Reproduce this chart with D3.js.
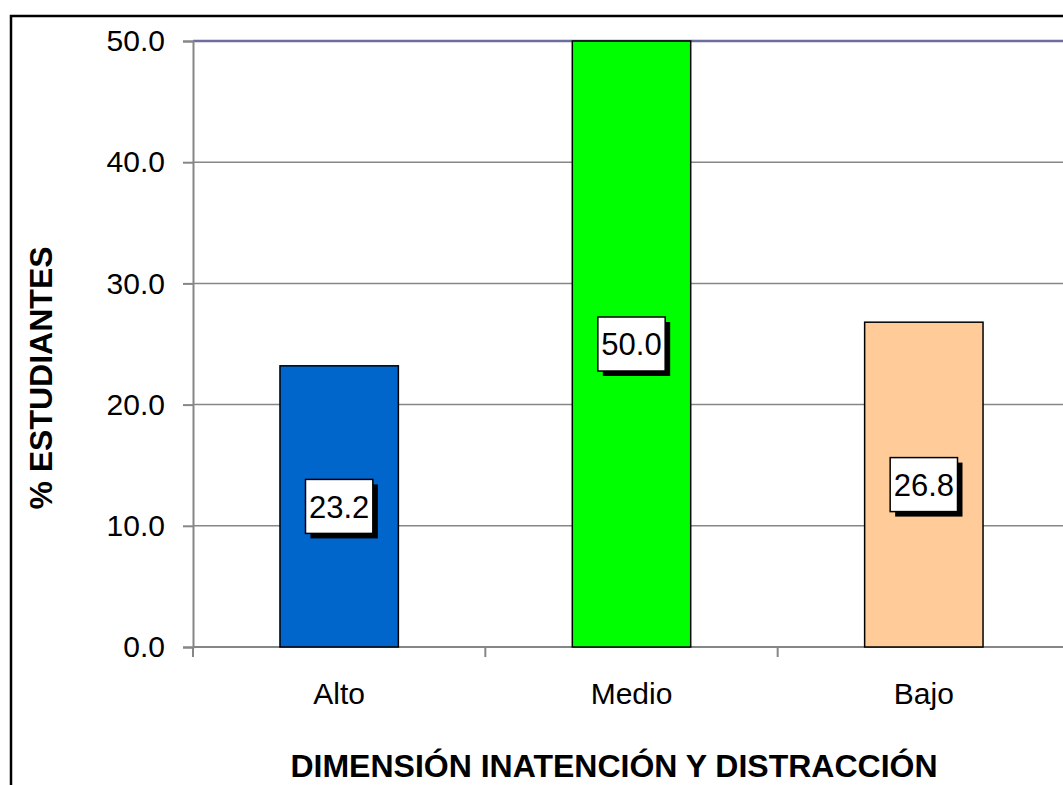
<!DOCTYPE html>
<html>
<head>
<meta charset="utf-8">
<script src="https://cdn.jsdelivr.net/npm/d3@7"></script>
<style>
  body { margin: 0; background: #fff; }
  svg { display: block; }
  text { font-family: Arial, "Liberation Sans", sans-serif; fill: #000; }
</style>
</head>
<body>
<svg id="chart" width="1063" height="785"></svg>
<script>
// chart data
var categories = ["Alto", "Medio", "Bajo"];
var values = [23.2, 50.0, 26.8];
var barColors = ["#0066CC", "#00FF00", "#FFCC99"];
var yTicks = [0, 10, 20, 30, 40, 50];

var svg = d3.select("#chart");

var plot = { left: 193, top: 41, right: 1070, bottom: 647 };

var x = d3.scaleBand()
    .domain(categories)
    .range([plot.left, plot.right])
    .padding(0);

var y = d3.scaleLinear()
    .domain([0, 50])
    .range([plot.bottom, plot.top]);

var barW = x.bandwidth() * 0.405;

// outer chart frame (runs off the right and bottom edges)
svg.append("rect")
    .attr("x", 11).attr("y", 16)
    .attr("width", 1100).attr("height", 800)
    .attr("fill", "none")
    .attr("stroke", "#000")
    .attr("stroke-width", 2.5);

// gridlines
svg.append("g")
    .selectAll("line")
    .data(yTicks.filter(function(t) { return t > 0; }))
    .enter().append("line")
    .attr("x1", plot.left).attr("x2", plot.right)
    .attr("y1", function(d) { return y(d); })
    .attr("y2", function(d) { return y(d); })
    .attr("stroke", function(d) { return d === 50 ? "#6e6e9c" : "#868686"; })
    .attr("stroke-width", function(d) { return d === 50 ? 2.5 : 1.5; });

// y axis
var yAxis = d3.axisLeft(y)
    .tickValues(yTicks)
    .tickFormat(d3.format(".1f"))
    .tickSize(10)
    .tickPadding(18);

var gy = svg.append("g")
    .attr("transform", "translate(" + plot.left + ",0)")
    .call(yAxis);
gy.select(".domain").attr("stroke", "#868686").attr("stroke-width", 2);
gy.selectAll(".tick line").attr("stroke", "#868686").attr("stroke-width", 2);
gy.selectAll(".tick text")
    .style("font-size", "30px")
    .style("font-family", "Arial, 'Liberation Sans', sans-serif")
    .attr("fill", "#000");

// x axis baseline + category separators
svg.append("line")
    .attr("x1", plot.left).attr("x2", plot.right)
    .attr("y1", plot.bottom).attr("y2", plot.bottom)
    .attr("stroke", "#868686").attr("stroke-width", 2);

svg.append("g")
    .selectAll("line")
    .data(categories)
    .enter().append("line")
    .attr("x1", function(d) { return x(d); })
    .attr("x2", function(d) { return x(d); })
    .attr("y1", plot.bottom).attr("y2", plot.bottom + 10)
    .attr("stroke", "#868686").attr("stroke-width", 2);

// bars
svg.append("g")
    .selectAll("rect")
    .data(values)
    .enter().append("rect")
    .attr("x", function(d, i) { return x(categories[i]) + (x.bandwidth() - barW) / 2; })
    .attr("y", function(d) { return y(d); })
    .attr("width", barW)
    .attr("height", function(d) { return y(0) - y(d); })
    .attr("fill", function(d, i) { return barColors[i]; })
    .attr("stroke", "#000")
    .attr("stroke-width", 1.5);

// category labels
svg.append("g")
    .selectAll("text")
    .data(categories)
    .enter().append("text")
    .attr("x", function(d) { return x(d) + x.bandwidth() / 2; })
    .attr("y", 704)
    .attr("text-anchor", "middle")
    .style("font-size", "30px")
    .text(function(d) { return d; });

// data labels: white box with black drop shadow
var fmt = d3.format(".1f");
var labels = svg.append("g")
    .selectAll("g")
    .data(values)
    .enter().append("g")
    .attr("transform", function(d, i) {
        var cx = x(categories[i]) + x.bandwidth() / 2;
        var cy = (y(d) + y(0)) / 2;
        return "translate(" + cx + "," + cy + ")";
    });

labels.each(function(d) {
    var g = d3.select(this);
    var t = g.append("text")
        .attr("text-anchor", "middle")
        .attr("dy", "0.36em")
        .style("font-size", "31px")
        .text(fmt(d));
    var w = t.node().getComputedTextLength() + 7;
    var h = 54;
    g.insert("rect", "text")
        .attr("x", -w / 2 + 5).attr("y", -h / 2 + 5)
        .attr("width", w).attr("height", h)
        .attr("fill", "#000");
    g.insert("rect", "text")
        .attr("x", -w / 2).attr("y", -h / 2)
        .attr("width", w).attr("height", h)
        .attr("fill", "#fff")
        .attr("stroke", "#000")
        .attr("stroke-width", 1.5);
});

// axis titles
svg.append("text")
    .attr("transform", "translate(52,378) rotate(-90)")
    .attr("text-anchor", "middle")
    .style("font-size", "32px")
    .style("font-weight", "bold")
    .text("% ESTUDIANTES");

svg.append("text")
    .attr("x", 614)
    .attr("y", 777)
    .attr("text-anchor", "middle")
    .style("font-size", "32px")
    .style("font-weight", "bold")
    .text("DIMENSIÓN INATENCIÓN Y DISTRACCIÓN");
</script>
</body>
</html>
